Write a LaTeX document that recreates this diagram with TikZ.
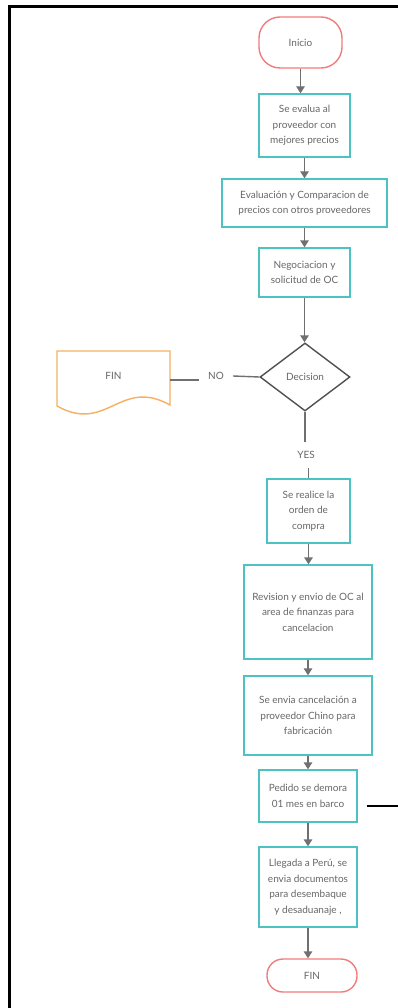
\documentclass[tikz,border=0pt]{standalone}
\usepackage{fontspec}
\setmainfont{Lato}
\usetikzlibrary{arrows.meta,shapes.geometric}
\definecolor{boxteal}{HTML}{4CC3C2}
\definecolor{termred}{HTML}{F27C7C}
\definecolor{docorange}{HTML}{F7B062}
\definecolor{linegray}{HTML}{707070}
\definecolor{txtgray}{HTML}{676767}
\definecolor{decgray}{HTML}{505050}
\begin{document}
\begin{tikzpicture}[x=1pt,y=-1pt,
  txt/.style={text=txtgray, align=center, inner sep=0pt,
    font=\fontsize{10}{15.5}\selectfont},
  box/.style={txt, draw=boxteal, line width=1.4pt, fill=white},
  term/.style={txt, draw=termred, line width=1.4pt, fill=white},
  decision/.style={txt, shape=diamond, draw=decgray, line width=1.4pt,
    minimum width=90pt, minimum height=68pt},
  conn/.style={draw=linegray, line width=1.4pt},
  arr/.style={conn, -{Triangle[width=8.5pt,length=7pt]}}]
\useasboundingbox (0,0) rectangle (398,1008);
\fill[white] (0,0) rectangle (398,1008);

% page frame (top and left edges)
\draw[black, line width=2.8pt] (9.3,1010) -- (9.3,6.2) -- (400,6.2);

% main column
\node[term, rounded corners=21pt, minimum width=83pt, minimum height=51pt] (inicio) at (300.5,42.5) {Inicio};
\node[box, minimum width=91pt, minimum height=63pt] (b1) at (304.5,125.5)
  {Se evalua al\\proveedor con\\mejores precios};
\node[box, minimum width=165pt, minimum height=48pt] (b2) at (304.5,203)
  {Evaluación y Comparacion de\\precios con otros proveedores};
\node[box, minimum width=91pt, minimum height=49pt] (b3) at (304.5,272.5)
  {Negociacion y\\solicitud de OC};
\node[decision] (dec) at (305,377) {Decision};

% rejected branch: document shape
\node[txt, minimum width=113pt, minimum height=55pt] (fin1) at (113.5,376) {FIN};
\draw[docorange, line width=1.4pt, fill=white]
  (57,351) -- (170,351) -- (170,405)
  .. controls (120,377) and (107,434) .. (57,406) -- cycle;
\node[txt] at (113.5,376) {FIN};
\node[txt, minimum width=34pt, minimum height=12pt] (no) at (216,376) {NO};

\node[txt, minimum height=26pt] (yes) at (306,455) {YES};

\node[box, minimum width=83pt, minimum height=64pt] (b4) at (308.5,511)
  {Se realice la\\orden de\\compra};
\node[box, minimum width=128pt, minimum height=94pt] (b5) at (308,612)
  {Revision y envio de OC al\\area de finanzas para\\cancelacion};
\node[box, minimum width=128pt, minimum height=79pt] (b6) at (308,715.5)
  {Se envia cancelación a\\proveedor Chino para\\fabricación};
\node[box, minimum width=98pt, minimum height=52pt] (b7) at (308,796)
  {Pedido se demora\\01 mes en barco};
\node[box, minimum width=98pt, minimum height=80pt] (b8) at (308,887)
  {Llegada a Perú, se\\envia documentos\\para desembaque\\y desaduanaje ,};
\node[term, rounded corners=16pt, minimum width=90pt, minimum height=33pt] (fin2) at (312,975.5) {FIN};

\coordinate (pageedge) at (398,806);

% connectors
\draw[arr] (inicio.south) -- (inicio.south |- b1.north);
\draw[arr] (b1.south) -- (b1.south |- b2.north);
\draw[arr] (b2.south) -- (b2.south |- b3.north);
\draw[arr] (b3.south) -- (b3.south |- dec.north);
\draw[conn] (dec.west) -- (no.east);
\draw[conn] ([yshift=-4pt]no.west) -- ([yshift=-4pt]no.west -| fin1.east);
\draw[conn] (dec.south) -- (dec.south |- yes.north);
\draw[conn] (b4.north |- yes.south) -- (b4.north);
\draw[arr] (b4.south) -- (b4.south |- b5.north);
\draw[arr] (b5.south) -- (b5.south |- b6.north);
\draw[arr] (b6.south) -- (b6.south |- b7.north);
\draw[arr] (b7.south) -- (b7.south |- b8.north);
\draw[arr] (b8.south) -- (b8.south |- fin2.north);
\draw[black, line width=2pt] ([xshift=9pt]b7.east |- pageedge) -- (pageedge);
\end{tikzpicture}
\end{document}
